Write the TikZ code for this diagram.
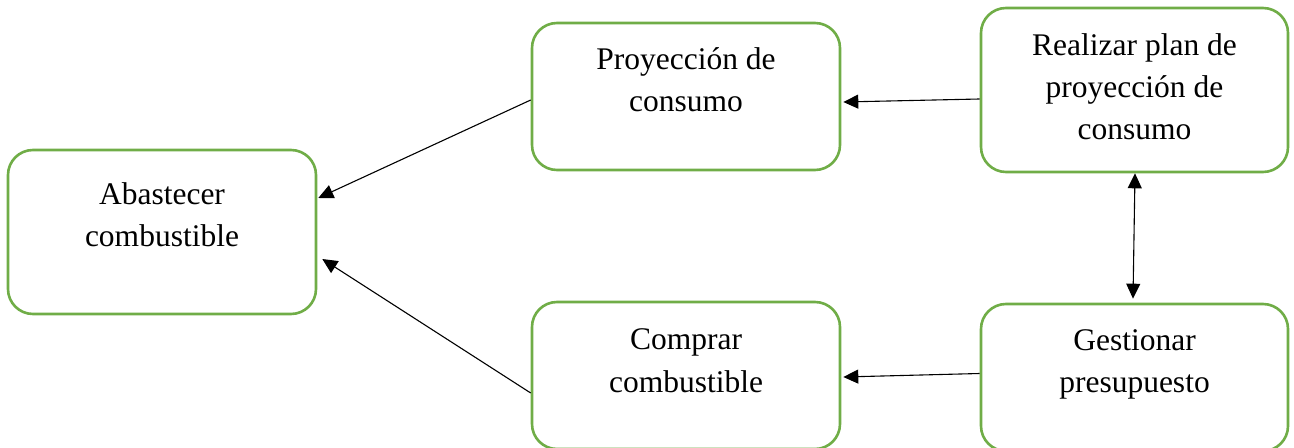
\documentclass[tikz,border=0pt]{standalone}
\usepackage{fontspec}
\setmainfont{Liberation Serif}
\usetikzlibrary{arrows.meta,calc}
\definecolor{boxgreen}{RGB}{112,173,71}
\tikzset{
  box/.style={draw=boxgreen, line width=1.3pt, rounded corners=12.5pt, inner sep=0pt, fill=white},
  txt/.style={align=center, inner sep=0pt, anchor=base, font=\fontsize{15.75pt}{21pt}\selectfont},
  tip/.tip={Triangle[length=7.5pt,width=7pt]},
  arr/.style={-tip, line width=0.55pt, black},
  darr/.style={tip-tip, line width=0.55pt, black}
}
\begin{document}
\begin{tikzpicture}[x=0.5pt,y=-0.5pt]
\useasboundingbox (0,0) rectangle (1294,448);
\clip (0,0) rectangle (1294,448);
\node[box, minimum width=154pt, minimum height=82pt] (A) at (162,232) {};
\node[box, minimum width=154pt, minimum height=73.5pt] (P) at (686,96.5) {};
\node[box, minimum width=153.5pt, minimum height=82pt] (R) at (1134.5,90) {};
\node[box, minimum width=154pt, minimum height=73.5pt] (C) at (686,375.5) {};
\node[box, minimum width=153.5pt, minimum height=73.5pt] (G) at (1134.5,377.5) {};
\node[txt] (tA) at (162,247) {Abastecer\\combustible};
\node[txt] (tP) at (686,112) {Proyección de\\consumo};
\node[txt] (tR) at (1134.5,140) {Realizar plan de\\proyección de\\consumo};
\node[txt] (tC) at (686,392) {Comprar\\combustible};
\node[txt] (tG) at (1134.5,393) {Gestionar\\presupuesto};
\draw[arr] ($(P.west)+(0,3.5)$) -- ($(A.east)+(1,-34)$);
\draw[arr] ($(C.west)+(0,17.5)$) -- ($(A.east)+(5,27)$);
\draw[arr] ($(R.west)+(0,9)$) -- ($(P.east)+(2,5.5)$);
\draw[arr] ($(G.west)+(0,-4)$) -- ($(C.east)+(2,1.5)$);
\draw[darr] ($(R.south)+(0.5,0)$) -- ($(G.north)+(-1.5,-4)$);
\end{tikzpicture}
\end{document}
